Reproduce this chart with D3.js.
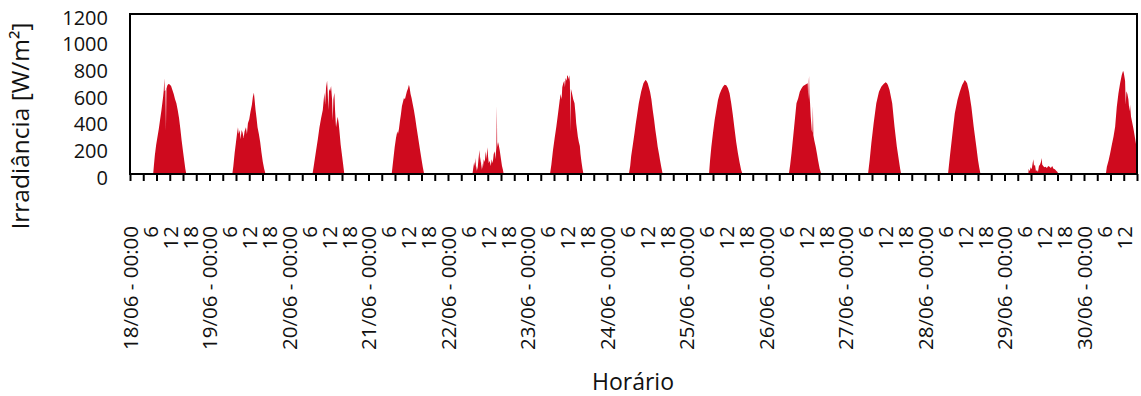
<!DOCTYPE html>
<html>
<head>
<meta charset="utf-8">
<script src="https://cdn.jsdelivr.net/npm/d3@7"></script>
<style>
  body { margin: 0; background: #fff; }
  text { font-family: "Open Sans", "Noto Sans", sans-serif; fill: #111; }
</style>
</head>
<body>
<svg id="chart" width="1141" height="396"></svg>
<script>
// Days covered by the measurement campaign
const dias = ['18/06', '19/06', '20/06', '21/06', '22/06', '23/06', '24/06',
              '25/06', '26/06', '27/06', '28/06', '29/06', '30/06'];
// Hour labels between the day labels
const rotulosHora = ['6', '12', '18'];
// Irradiance axis ticks [W/m²]
const yTicks = [0, 200, 400, 600, 800, 1000, 1200];

// Measured global irradiance per day: [hour of day, W/m²]
const dia18 = [[7.0,0],[7.2,60],[7.5,140],[7.9,220],[8.3,280],[8.7,340],[9.1,410],[9.5,480],[9.8,540],[10.0,580],[10.2,630],[10.36,718],[10.5,620],[10.7,630],[10.85,330],[11.0,640],[11.3,665],[11.6,675],[12.0,672],[12.4,660],[12.8,630],[13.2,600],[13.6,560],[14.0,530],[14.4,480],[14.8,420],[15.2,340],[15.6,250],[16.0,170],[16.4,95],[16.7,40],[17.0,0]];
const dia19 = [[6.9,0],[7.2,60],[7.6,160],[8.0,240],[8.3,300],[8.6,350],[8.8,300],[9.1,330],[9.4,260],[9.7,330],[10.0,310],[10.3,270],[10.6,320],[11.0,350],[11.3,300],[11.6,380],[12.0,410],[12.4,470],[12.8,520],[13.1,580],[13.4,610],[13.6,560],[13.9,480],[14.2,420],[14.5,350],[14.9,300],[15.3,240],[15.7,160],[16.1,90],[16.5,40],[16.9,0]];
const dia20 = [[7.1,0],[7.6,80],[8.2,180],[8.7,260],[9.2,350],[9.7,420],[10.2,480],[10.5,560],[10.7,610],[10.9,520],[11.2,650],[11.5,700],[11.7,600],[11.9,480],[12.1,640],[12.4,620],[12.7,660],[13.0,560],[13.2,400],[13.4,560],[13.7,610],[13.9,480],[14.2,350],[14.5,400],[14.7,430],[15.0,380],[15.2,330],[15.6,220],[16.0,140],[16.3,80],[16.7,0]];
const dia21 = [[7.0,0],[7.4,90],[7.9,200],[8.3,270],[8.7,320],[8.9,300],[9.2,340],[9.5,400],[9.8,450],[10.1,510],[10.4,540],[10.7,570],[11.0,560],[11.3,590],[11.6,620],[11.9,640],[12.2,670],[12.4,650],[12.7,600],[13.0,570],[13.3,530],[13.7,480],[14.1,420],[14.5,350],[15.0,270],[15.5,190],[16.0,110],[16.4,50],[16.8,0]];
const dia22 = [[7.4,0],[7.6,40],[7.9,90],[8.1,60],[8.3,120],[8.5,20],[8.7,60],[8.9,30],[9.2,110],[9.5,180],[9.7,80],[9.9,130],[10.1,30],[10.3,80],[10.5,40],[10.8,110],[11.1,90],[11.4,170],[11.6,110],[11.9,200],[12.1,130],[12.3,80],[12.6,100],[12.9,60],[13.2,110],[13.5,80],[13.8,150],[14.1,170],[14.3,110],[14.6,200],[14.75,510],[14.85,200],[15.1,240],[15.3,220],[15.6,180],[16.0,110],[16.3,60],[16.6,30],[16.8,0]];
const dia23 = [[6.8,0],[7.2,70],[7.7,180],[8.2,270],[8.7,355],[9.2,450],[9.7,550],[10.0,600],[10.3,560],[10.5,650],[10.8,680],[11.1,700],[11.3,650],[11.5,720],[11.8,700],[12.0,740],[12.2,735],[12.4,710],[12.6,740],[12.8,690],[12.95,320],[13.1,640],[13.4,610],[13.8,560],[14.2,530],[14.5,450],[14.7,380],[15.0,320],[15.2,280],[15.5,240],[15.8,210],[16.0,150],[16.3,90],[16.6,40],[16.9,0]];
const dia24 = [[6.6,0],[7.0,60],[7.3,135],[7.8,220],[8.3,305],[8.7,380],[9.0,430],[9.6,530],[10.3,617],[11.0,680],[11.6,705],[11.9,700],[12.3,680],[13.0,617],[13.4,560],[13.8,480],[14.2,410],[14.6,330],[15.0,260],[15.3,205],[15.7,150],[16.0,105],[16.4,50],[16.8,0]];
const dia25 = [[6.8,0],[7.1,100],[7.5,205],[8.0,310],[8.5,405],[9.0,480],[9.5,555],[10.0,600],[10.5,630],[11.0,655],[11.5,670],[12.0,665],[12.5,645],[13.0,605],[13.5,530],[14.0,440],[14.5,340],[15.0,240],[15.5,160],[16.0,90],[16.5,30],[16.9,0]];
const dia26 = [[6.9,0],[7.3,70],[7.7,155],[8.2,280],[8.7,405],[9.2,530],[9.7,567],[10.2,617],[10.7,642],[11.2,660],[11.7,667],[12.2,675],[12.6,680],[12.75,560],[12.9,690],[13.0,735],[13.1,600],[13.3,530],[13.5,430],[13.8,330],[14.0,310],[14.15,510],[14.3,290],[14.6,250],[15.0,205],[15.4,150],[15.7,105],[16.2,40],[16.7,0]];
const dia27 = [[6.8,0],[7.3,105],[7.8,230],[8.5,380],[9.3,530],[10.1,617],[10.8,655],[11.5,675],[12.1,688],[12.5,680],[12.8,667],[13.3,630],[14.1,530],[14.8,355],[15.5,205],[16.1,105],[16.5,40],[16.8,0]];
const dia28 = [[6.95,0],[7.5,130],[8.3,305],[9.0,455],[9.8,555],[10.5,617],[11.2,667],[11.7,690],[12.0,705],[12.3,695],[12.7,680],[13.3,617],[14.0,505],[14.7,355],[15.5,205],[16.0,105],[16.4,45],[16.75,0]];
const dia29 = [[7.2,0],[7.3,40],[7.6,20],[7.9,50],[8.2,35],[8.5,80],[8.7,110],[8.9,60],[9.2,70],[9.5,20],[9.8,30],[10.1,15],[10.4,60],[10.7,70],[11.0,90],[11.2,120],[11.4,70],[11.7,60],[12.0,50],[12.4,55],[12.8,45],[13.2,60],[13.6,55],[14.0,45],[14.4,60],[14.8,40],[15.2,35],[15.6,25],[16.0,15],[16.2,0]];
const dia30 = [[6.6,0],[6.9,55],[7.4,100],[7.9,155],[8.4,220],[8.9,280],[9.4,355],[9.9,505],[10.4,605],[10.9,680],[11.4,742],[11.8,775],[12.0,760],[12.4,700],[12.6,520],[12.8,620],[13.1,600],[13.4,560],[13.7,470],[13.9,520],[14.2,430],[14.6,380],[15.0,330],[15.4,270],[15.8,210],[16.0,180],[16.3,140]];

const serieDias = [dia18, dia19, dia20, dia21, dia22, dia23, dia24,
                   dia25, dia26, dia27, dia28, dia29, dia30];

// Layout
const plot = { left: 130, right: 1137, top: 14, bottom: 174 };
const horaFinal = 304;  // 30/06 16:00, end of the record

const svg = d3.select('#chart');

const x = d3.scaleLinear().domain([0, horaFinal]).range([plot.left, plot.right]);
const y = d3.scaleLinear().domain([0, 1200]).range([plot.bottom, plot.top]);

// Continuous time series in hours since 18/06 00:00
const pontos = serieDias.flatMap((dia, i) => dia.map(([h, v]) => ({ t: 24 * i + h, v })));

svg.append('clipPath').attr('id', 'area-plot')
  .append('rect')
  .attr('x', plot.left).attr('y', plot.top)
  .attr('width', plot.right - plot.left).attr('height', plot.bottom - plot.top);

const area = d3.area()
  .x(d => x(d.t))
  .y0(y(0))
  .y1(d => y(d.v));

svg.append('path')
  .datum(pontos)
  .attr('clip-path', 'url(#area-plot)')
  .attr('fill', '#cf0a1e')
  .attr('d', area);

// Tick marks every 4 hours
const eixoMarcas = svg.append('g')
  .attr('transform', `translate(0,${plot.bottom})`)
  .call(d3.axisBottom(x).tickValues(d3.range(0, horaFinal + 1, 4)).tickSize(7).tickFormat(''));
eixoMarcas.select('.domain').remove();
eixoMarcas.selectAll('line').attr('stroke', '#000').attr('stroke-width', 2);

// Time labels every 6 hours
const formatoHora = h => h % 24 === 0 ? `${dias[h / 24]} - 00:00` : rotulosHora[(h % 24) / 6 - 1];
const eixoRotulos = svg.append('g')
  .attr('transform', `translate(0,${plot.bottom})`)
  .call(d3.axisBottom(x).tickValues(d3.range(0, horaFinal, 6)).tickSize(0).tickFormat(formatoHora));
eixoRotulos.select('.domain').remove();
eixoRotulos.selectAll('text')
  .attr('transform', 'rotate(-90)')
  .attr('text-anchor', 'end')
  .attr('x', -52)
  .attr('y', 0)
  .attr('dy', '0.36em')
  .style('font-size', '20.5px')
  .style('font-family', '"Open Sans", sans-serif')
  .attr('fill', '#111');

// Irradiance axis
const eixoY = svg.append('g')
  .attr('transform', `translate(${plot.left},0)`)
  .call(d3.axisLeft(y).tickValues(yTicks).tickSize(0).tickPadding(22).tickFormat(d3.format('d')));
eixoY.select('.domain').remove();
eixoY.selectAll('text')
  .attr('dy', '0.5em')
  .style('font-size', '20px')
  .style('font-family', '"Open Sans", sans-serif')
  .attr('fill', '#111');

// Plot frame
svg.append('rect')
  .attr('x', plot.left).attr('y', plot.top)
  .attr('width', plot.right - plot.left).attr('height', plot.bottom - plot.top)
  .attr('fill', 'none').attr('stroke', '#000').attr('stroke-width', 2);

// Axis titles
svg.append('text')
  .attr('transform', 'translate(29,126) rotate(-90)')
  .attr('text-anchor', 'middle')
  .style('font-size', '24.5px')
  .text('Irradiância [W/m²]');

svg.append('text')
  .attr('x', 633).attr('y', 390)
  .attr('text-anchor', 'middle')
  .style('font-size', '23px')
  .text('Horário');
</script>
</body>
</html>
